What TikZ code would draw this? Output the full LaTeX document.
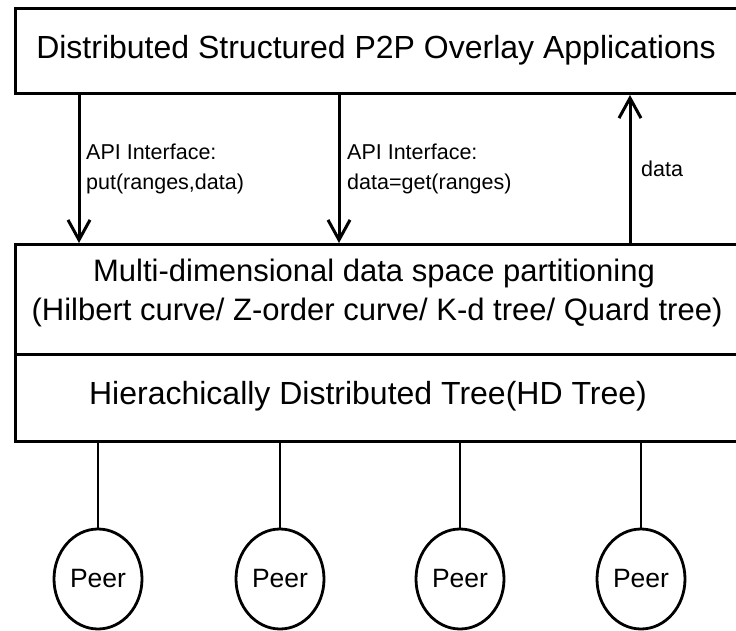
\documentclass[tikz,border=0pt]{standalone}
\usepackage{fontspec}
\setmainfont{Liberation Sans}
\usetikzlibrary{arrows.meta,shapes.geometric}
\begin{document}
\begin{tikzpicture}[x=1pt,y=-1pt,
  layerbox/.style={draw, line width=3pt, minimum width=726pt, anchor=north west, inner sep=0pt},
  big/.style={font=\fontsize{31}{37}\selectfont},
  lab/.style={font=\fontsize{21.5}{25}\selectfont, inner sep=0pt, anchor=base west},
  arr/.style={line width=3pt, -{Straight Barb[length=20pt,width=22pt,line width=3pt]}},
  peer/.style={draw, ellipse, line width=2.8pt, minimum width=88pt, minimum height=100pt, inner sep=0pt, font=\fontsize{26.5}{30}\selectfont},
  link/.style={line width=2.8pt}]
\useasboundingbox (0,0) rectangle (736,631);
\clip (0,0) rectangle (736,631);
% boxes
\node[layerbox, minimum height=85pt] (app) at (14,7) {};
\node[big, font=\fontsize{32}{37}\selectfont] (apptext) at (376,50) {Distributed Structured P2P Overlay Applications};
\node[layerbox, minimum height=110pt] (map) at (14,243) {};
\node[big] (maptext1) at (374,273) {Multi-dimensional data space partitioning};
\node[big] (maptext2) at (377,312) {(Hilbert curve/ Z-order curve/ K-d tree/ Quard tree)};
\node[layerbox, minimum height=87pt] (hd) at (14,353) {};
\node[big, font=\fontsize{32}{37}\selectfont] (hdtext) at (368,396) {Hierachically Distributed Tree(HD Tree)};
% arrows
\coordinate (c1) at (79,0);
\coordinate (c2) at (339,0);
\coordinate (c3) at (630,0);
\draw[arr] (c1 |- app.south) -- (c1 |- map.north);
\draw[arr] (c2 |- app.south) -- (c2 |- map.north);
\draw[arr] (c3 |- map.north) -- (c3 |- app.south);
\node[lab] (l1a) at (86,160) {API Interface:};
\node[lab] (l1b) at (86,190) {put(ranges,data)};
\node[lab] (l2a) at (347,160) {API Interface:};
\node[lab] (l2b) at (347,190) {data=get(ranges)};
\node[lab] (l3) at (641,177) {data};
% peers
\foreach \i/\x in {1/98,2/280,3/460,4/641}{
  \node[peer] (p\i) at (\x,579) {Peer};
  \draw[link] (p\i.north |- hd.south) -- (p\i.north);
}
\end{tikzpicture}
\end{document}
